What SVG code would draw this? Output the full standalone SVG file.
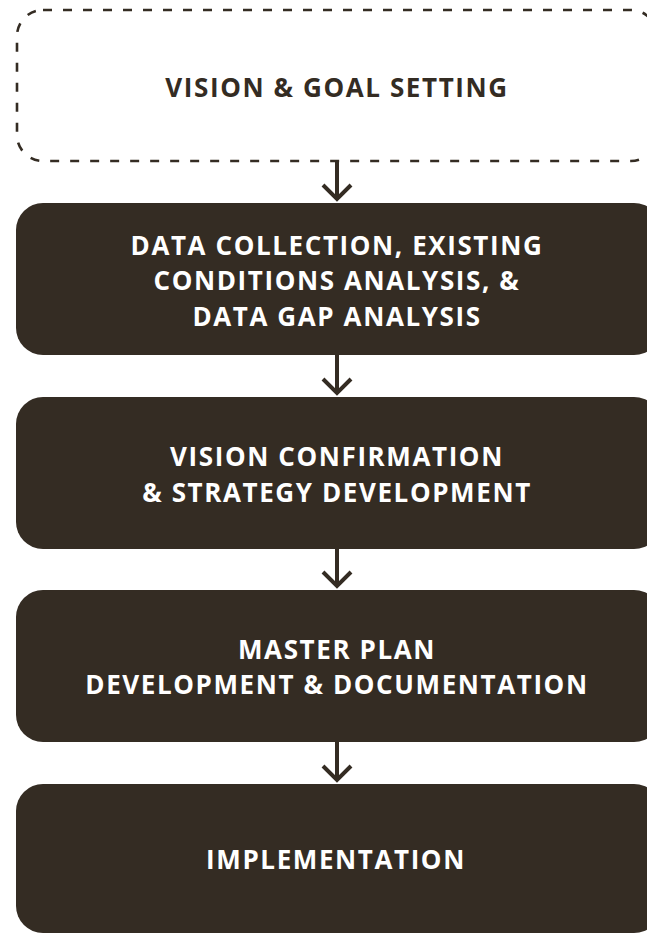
<svg xmlns="http://www.w3.org/2000/svg" width="647" height="934" viewBox="0 0 647 934">
<style>
.box{fill:#342c23}
.dash{fill:none;stroke:#342c23;stroke-width:2.6;stroke-dasharray:9 11}
.t{font-family:"Open Sans","DejaVu Sans",sans-serif;font-weight:700;font-size:26px;letter-spacing:1.6px;text-anchor:middle}
.w{fill:#ffffff}
.d{fill:#342c23}
.arr{fill:none;stroke:#342c23;stroke-width:4;stroke-linecap:butt;stroke-linejoin:miter}
</style>
<rect width="647" height="934" fill="#ffffff"/>
<g id="node-vision">
<rect class="dash" x="17" y="10" width="640" height="151" rx="26"/>
<text class="t d" x="337" y="97">VISION &amp; GOAL SETTING</text>
</g>
<g id="node-data">
<rect class="box" x="16" y="203" width="645" height="152" rx="27"/>
<text class="t w" x="337" y="255">DATA COLLECTION, EXISTING</text>
<text class="t w" x="337" y="290">CONDITIONS ANALYSIS, &amp;</text>
<text class="t w" x="337" y="326">DATA GAP ANALYSIS</text>
</g>
<g id="node-strategy">
<rect class="box" x="16" y="397" width="645" height="152" rx="27"/>
<text class="t w" x="337" y="466">VISION CONFIRMATION</text>
<text class="t w" x="337" y="502">&amp; STRATEGY DEVELOPMENT</text>
</g>
<g id="node-master">
<rect class="box" x="16" y="590" width="645" height="152" rx="27"/>
<text class="t w" x="337" y="659">MASTER PLAN</text>
<text class="t w" x="337" y="694">DEVELOPMENT &amp; DOCUMENTATION</text>
</g>
<g id="node-impl">
<rect class="box" x="16" y="784" width="645" height="149" rx="27"/>
<text class="t w" x="336" y="869">IMPLEMENTATION</text>
</g>
<g id="connectors">
<path class="arr" d="M337 162V199M323 185L337 199L351 185"/>
<path class="arr" d="M337 355V393M323 379L337 393L351 379"/>
<path class="arr" d="M337 549V586M323 572L337 586L351 572"/>
<path class="arr" d="M337 742V780M323 766L337 780L351 766"/>
</g>
</svg>
